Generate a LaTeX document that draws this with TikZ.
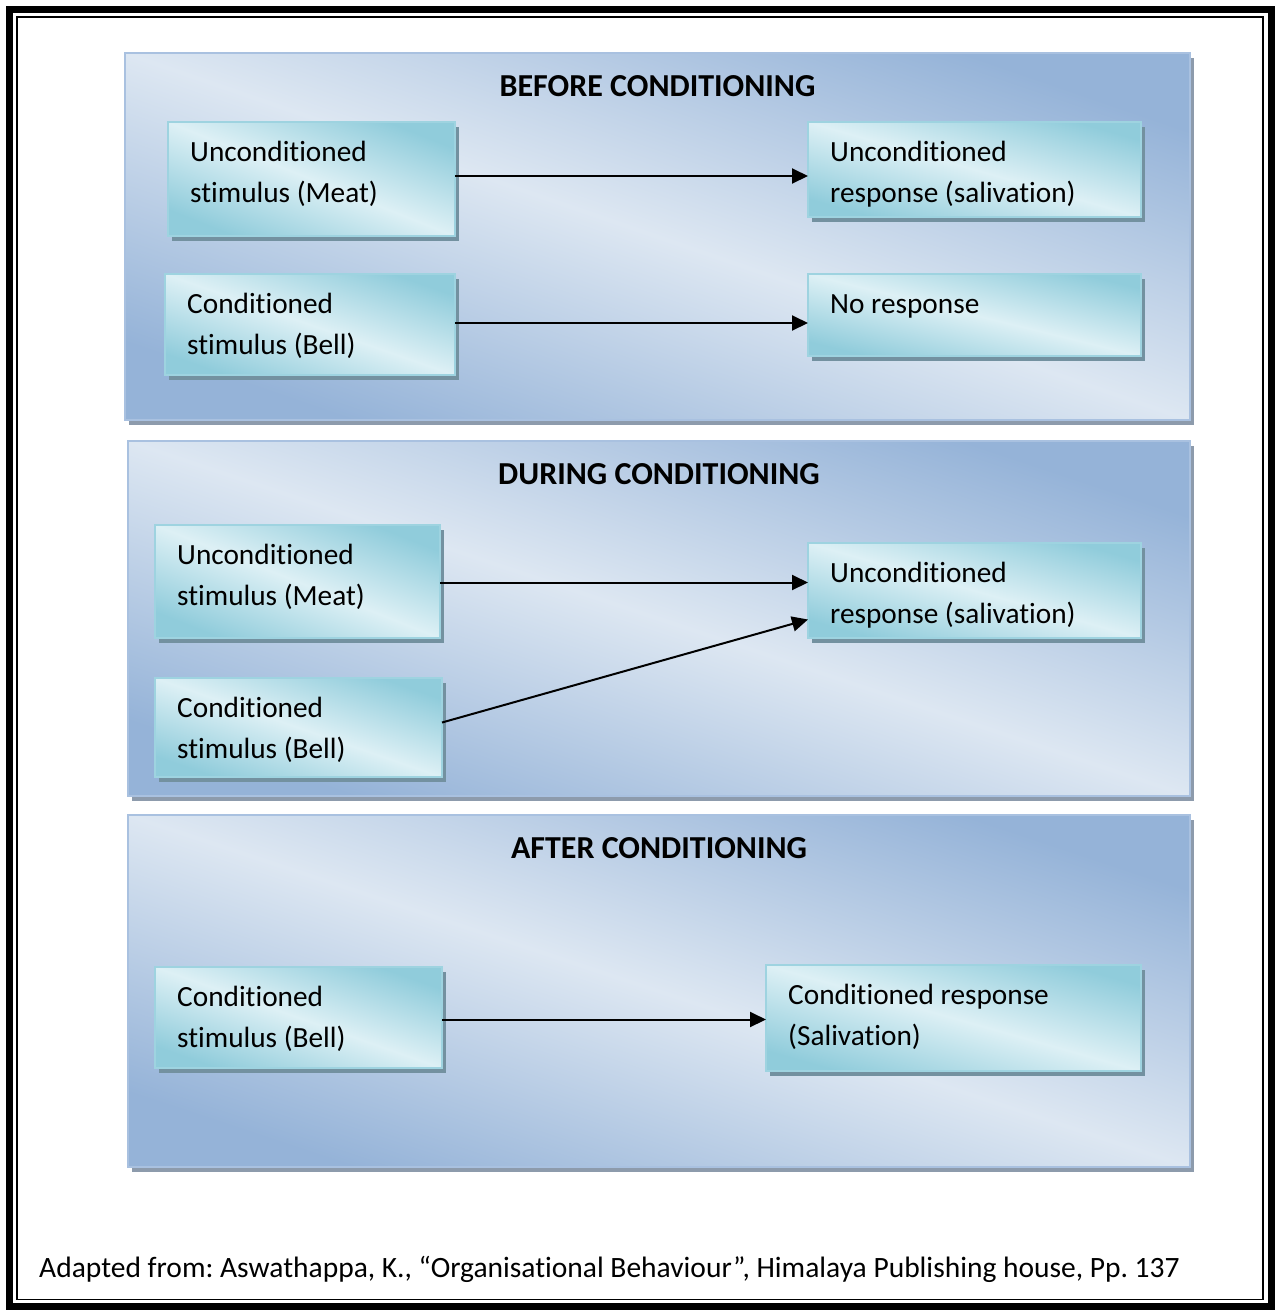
\documentclass[tikz,border=0pt]{standalone}
\usepackage{fontspec}
\setmainfont{Carlito}[Ligatures=CommonOff]
\usetikzlibrary{arrows.meta,shadows,calc}
\definecolor{paneldark}{HTML}{95B3D8}
\definecolor{panellight}{HTML}{DDE7F2}
\definecolor{panelborder}{HTML}{A9C1E0}
\definecolor{panelshadow}{HTML}{8D9BAC}
\definecolor{boxdark}{HTML}{90CCDB}
\definecolor{boxlight}{HTML}{DDF0F5}
\definecolor{boxborder}{HTML}{9ED3E0}
\definecolor{boxshadow}{HTML}{7391A0}
\newcommand\stbox[6]{%
  \pgfmathsetmacro\shang{-atan(#5/#4)}%
  \node[stbox, shading angle=\shang, minimum width=#4pt, minimum height=#5pt] (#1) at (#2,#3) {};
  \node[boxtext] (#1t) at ([xshift=22pt,yshift=-39pt]#1.north west)
    {\begin{tabular}[t]{@{}l@{}}#6\end{tabular}};}
\newcommand\stpanel[6]{%
  \pgfmathsetmacro\shang{-atan(#5/#4)}%
  \node[panel, shading angle=\shang, minimum width=#4pt, minimum height=#5pt] (#1) at (#2,#3) {};
  \node[paneltitle] (#1t) at ([yshift=-33pt]#1.north) {#6};}
\begin{document}
\frenchspacing
\begin{tikzpicture}[x=1pt,y=-1pt,
  panel/.style={shade, shading=axis, top color=paneldark, bottom color=paneldark,
    middle color=panellight, draw=panelborder, line width=1.5pt,
    inner sep=0pt, outer sep=0pt, anchor=north west,
    drop shadow={shadow xshift=4pt,shadow yshift=-4.5pt,fill=panelshadow,opacity=1}},
  stbox/.style={shade, shading=axis, top color=boxdark, bottom color=boxdark,
    middle color=boxlight, draw=boxborder, line width=2pt,
    inner sep=0pt, outer sep=0pt, anchor=north west,
    drop shadow={shadow xshift=4pt,shadow yshift=-4.5pt,fill=boxshadow,opacity=1}},
  boxtext/.style={anchor=base west, inner sep=0pt, font=\fontsize{29.3}{41}\selectfont},
  paneltitle/.style={anchor=center, inner sep=0pt, font=\bfseries\fontsize{32}{38}\selectfont},
  arr/.style={line width=2pt, -{Triangle[length=16pt,width=15pt]}},
  caption/.style={anchor=base west, inner sep=0pt, font=\fontsize{29.5}{36}\selectfont}]
\useasboundingbox (0,0) rectangle (1275,1310);
\fill[white] (0,0) rectangle (1275,1310);
% frame
\draw[line width=7pt] (9.5,9.5) rectangle (1271,1306.5);
\draw[line width=1.5pt] (17,17) rectangle (1263,1299.5);
% panels
\stpanel{P1}{125}{53}{1065}{367}{BEFORE CONDITIONING}
\stpanel{P2}{128}{441}{1062}{355}{DURING CONDITIONING}
\stpanel{P3}{128}{815}{1062}{352}{AFTER CONDITIONING}
% boxes
\stbox{A1}{168}{122}{287}{114}{Unconditioned\\stimulus (Meat)}
\stbox{A2}{808}{122}{333}{95}{Unconditioned\\response (salivation)}
\stbox{B1}{165}{274}{290}{101}{Conditioned\\stimulus (Bell)}
\stbox{B2}{808}{274}{333}{82}{No response}
\stbox{C1}{155}{525}{285}{113}{Unconditioned\\stimulus (Meat)}
\stbox{C2}{808}{543}{333}{95}{Unconditioned\\response (salivation)}
\stbox{C3}{155}{678}{287}{99}{Conditioned\\stimulus (Bell)}
\stbox{D1}{155}{967}{287}{101}{Conditioned\\stimulus (Bell)}
\stbox{D2}{766}{965}{375}{106}{Conditioned response\\(Salivation)}
% arrows
\draw[arr] ([yshift=3pt]A1.east) -- ([yshift=3pt]A1.east -| A2.west);
\draw[arr] ([yshift=1.5pt]B1.east) -- ([yshift=1.5pt]B1.east -| B2.west);
\draw[arr] ([yshift=-1pt]C1.east) -- ([yshift=-1pt]C1.east -| C2.west);
\draw[arr] ([yshift=5pt]C3.east) -- ([yshift=-29pt]C2.west);
\draw[arr] ([yshift=-2pt]D1.east) -- ([yshift=-2pt]D1.east -| D2.west);
% caption
\node[caption] (cap) at (39,1277) {Adapted from: Aswathappa, K., “Organisational Behaviour”, Himalaya Publishing house, Pp. 137};
\end{tikzpicture}
\end{document}
